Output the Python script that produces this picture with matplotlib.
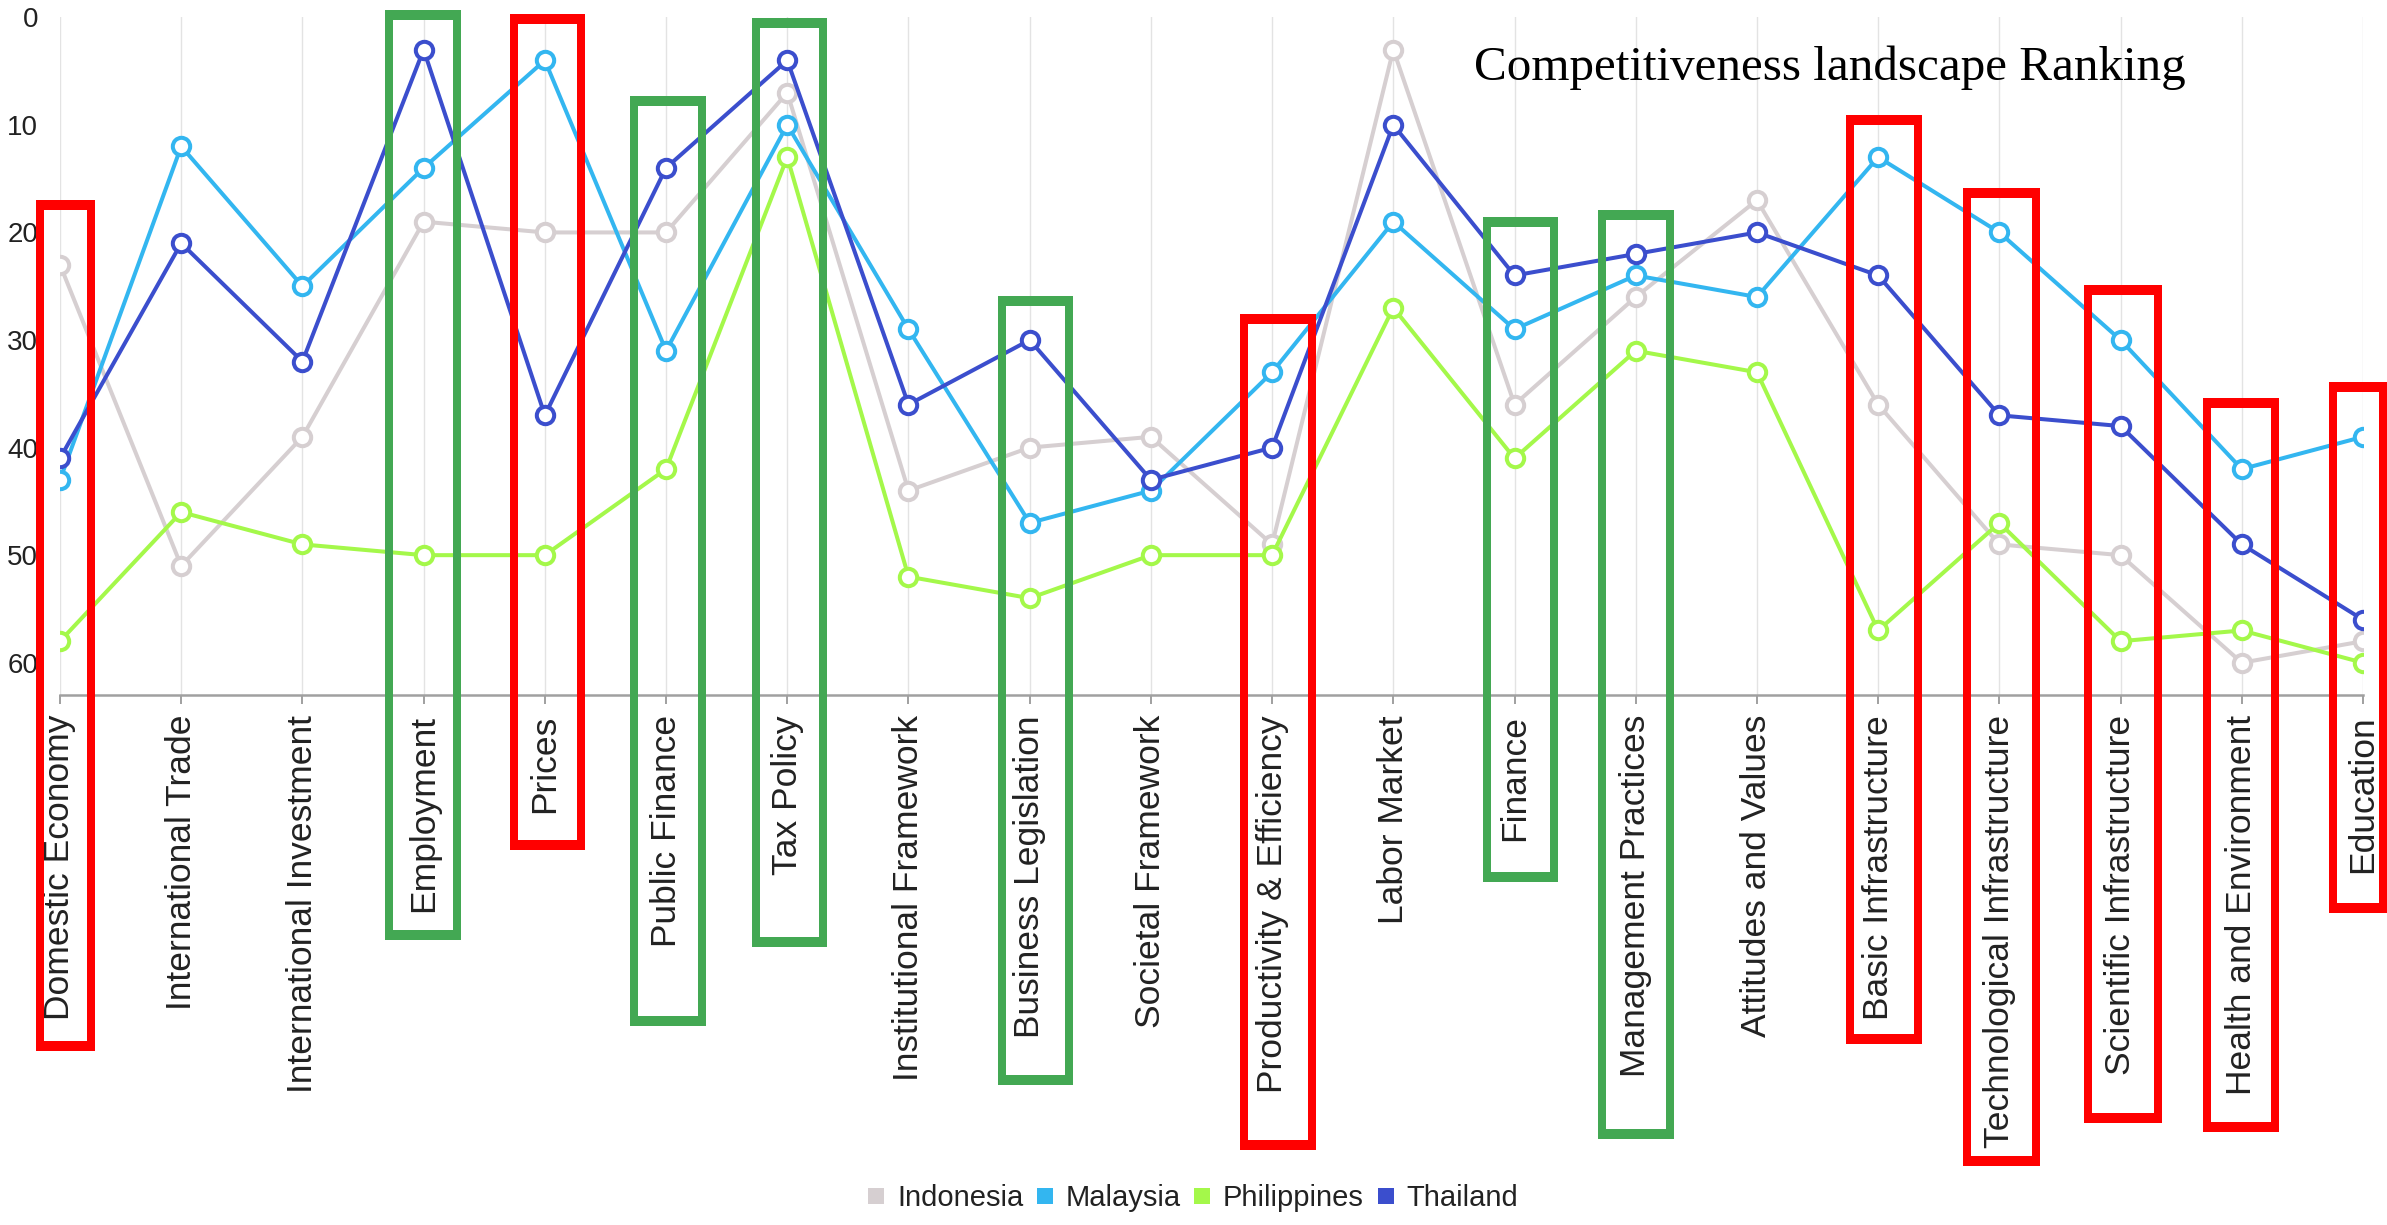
import matplotlib
matplotlib.use("Agg")
import matplotlib.pyplot as plt
from matplotlib.patches import Rectangle
from matplotlib.lines import Line2D
from matplotlib import font_manager

# ---- data -------------------------------------------------------------
categories = [
    "Domestic Economy", "International Trade", "International Investment",
    "Employment", "Prices", "Public Finance", "Tax Policy",
    "Institutional Framework", "Business Legislation", "Societal Framework",
    "Productivity & Efficiency", "Labor Market", "Finance",
    "Management Practices", "Attitudes and Values", "Basic Infrastructure",
    "Technological Infrastructure", "Scientific Infrastructure",
    "Health and Environment", "Education",
]

indonesia = [23, 51, 39, 19, 20, 20, 7, 44, 40, 39, 49, 3, 36, 26, 17, 36, 49, 50, 60, 58]
malaysia = [43, 12, 25, 14, 4, 31, 10, 29, 47, 44, 33, 19, 29, 24, 26, 13, 20, 30, 42, 39]
philippines = [58, 46, 49, 50, 50, 42, 13, 52, 54, 50, 50, 27, 41, 31, 33, 57, 47, 58, 57, 60]
thailand = [41, 21, 32, 3, 37, 14, 4, 36, 30, 43, 40, 10, 24, 22, 20, 24, 37, 38, 49, 56]

series_names = ["Indonesia", "Malaysia", "Philippines", "Thailand"]
series_values = [indonesia, malaysia, philippines, thailand]
series_colors = ["#D6CFD1", "#33B6F0", "#A4F84A", "#3B4ECD"]

y_ticks = [0, 10, 20, 30, 40, 50, 60]
rank_max = 63
title_text = "Competitiveness landscape Ranking"

# factors framed below the axis
weak_factors = ["Domestic Economy", "Prices", "Productivity & Efficiency",
                "Basic Infrastructure", "Technological Infrastructure",
                "Scientific Infrastructure", "Health and Environment", "Education"]
strong_factors = ["Employment", "Public Finance", "Tax Policy",
                  "Business Legislation", "Finance", "Management Practices"]

# frame layout in pixels: left / right offset from the tick, top, bottom
frame_layout = {
    "Domestic Economy": (-24, 35, 200, 1051),
    "Employment": (-38.7, 37.3, 10, 940),
    "Prices": (-35, 40, 14, 850),
    "Public Finance": (-36, 40, 96, 1026),
    "Tax Policy": (-35, 40, 18, 947),
    "Business Legislation": (-32, 43, 296, 1085),
    "Productivity & Efficiency": (-32, 44, 314, 1150),
    "Finance": (-32, 43, 217, 882),
    "Management Practices": (-38, 38, 210, 1139),
    "Basic Infrastructure": (-32, 44, 115, 1044),
    "Technological Infrastructure": (-36.5, 40.5, 188, 1166),
    "Scientific Infrastructure": (-36.7, 41.3, 285, 1123),
    "Health and Environment": (-39, 37, 398, 1132),
    "Education": (-34, 24, 382, 913),
}

# ---- figure -----------------------------------------------------------
W, H = 2387, 1225
fig = plt.figure(figsize=(W / 100, H / 100), dpi=100)
fig.patch.set_facecolor("white")

installed = {f.name for f in font_manager.fontManager.ttflist}
sans = "Liberation Sans" if "Liberation Sans" in installed else "DejaVu Sans"
narrow = "Liberation Sans Narrow" if "Liberation Sans Narrow" in installed else None
serif = "Liberation Serif" if "Liberation Serif" in installed else "DejaVu Serif"

top_px, bottom_px, left_px, right_px = 17.3, 695, 60, 2363
ax = fig.add_axes([left_px / W, 1 - bottom_px / H,
                   (right_px - left_px) / W, (bottom_px - top_px) / H])

x = list(range(len(categories)))
for name, vals, color in zip(series_names, series_values, series_colors):
    ax.plot(x, vals, color=color, lw=2.9, marker="o", ms=12.5,
            mfc="white", mec=color, mew=2.9, zorder=3,
            solid_joinstyle="round", label=name)

ax.set_xlim(0, len(categories) - 1)
ax.set_ylim(rank_max, 0)
ax.set_axisbelow(True)

ax.set_xticks(x)
ax.set_xticklabels(categories, rotation=90, fontfamily=sans)
ax.set_yticks(y_ticks)
for lab in ax.get_yticklabels():
    lab.set_fontfamily(sans)

ax.xaxis.grid(True, color="#E3E3E3", lw=1.0)
ax.yaxis.grid(False)
for side in ("left", "right", "top"):
    ax.spines[side].set_visible(False)
ax.spines["bottom"].set_color("#A0A0A0")
ax.spines["bottom"].set_linewidth(1.8)

ax.tick_params(axis="x", length=6.5, width=1.4, color="#A0A0A0", pad=7.9,
               labelsize=25.5, labelcolor="#222222")
ax.tick_params(axis="y", length=0, pad=15.8, labelsize=20, labelcolor="#222222")

# ---- title ------------------------------------------------------------
title = fig.text(1474 / W, 1 - 80 / H, title_text, family=serif, fontsize=36,
                 ha="left", va="baseline", color="black")
fig.canvas.draw()
w = title.get_window_extent().width
title.set_fontsize(36 * 712 / w)

# ---- legend -----------------------------------------------------------
handles = [Line2D([], [], ls="none", marker="s", ms=12.2, mfc=c, mec=c, mew=0)
           for c in series_colors]
if narrow:
    leg_prop = dict(family=narrow, size=24)
else:
    leg_prop = dict(family=sans, size=21)
fig.legend(handles, series_names, loc="center",
           bbox_to_anchor=(0.5, 1 - 1198 / H), ncol=4, frameon=False,
           prop=leg_prop, handlelength=0.5, handletextpad=0.45,
           columnspacing=0.5, borderaxespad=0, borderpad=0,
           labelcolor="#222222")

# ---- frames around selected factor labels -----------------------------
def px_rect(x0, y_top, w, h, color):
    fig.add_artist(Rectangle((x0 / W, 1 - (y_top + h) / H), w / W, h / H,
                             transform=fig.transFigure, facecolor=color,
                             edgecolor="none", zorder=5))

side_w, bar_h = 8, 10
frame_colors = {c: "#FF0000" for c in weak_factors}
frame_colors.update({c: "#43A853" for c in strong_factors})
for cat, color in frame_colors.items():
    lo, ro, top, bottom = frame_layout[cat]
    cx = ax.transData.transform((categories.index(cat), 0))[0]
    left, right = cx + lo, cx + ro
    px_rect(left, top, right - left, bar_h, color)
    px_rect(left, bottom - bar_h, right - left, bar_h, color)
    px_rect(left, top, side_w, bottom - top, color)
    px_rect(right - side_w, top, side_w, bottom - top, color)

fig.savefig("out.png", dpi=100, facecolor="white")
